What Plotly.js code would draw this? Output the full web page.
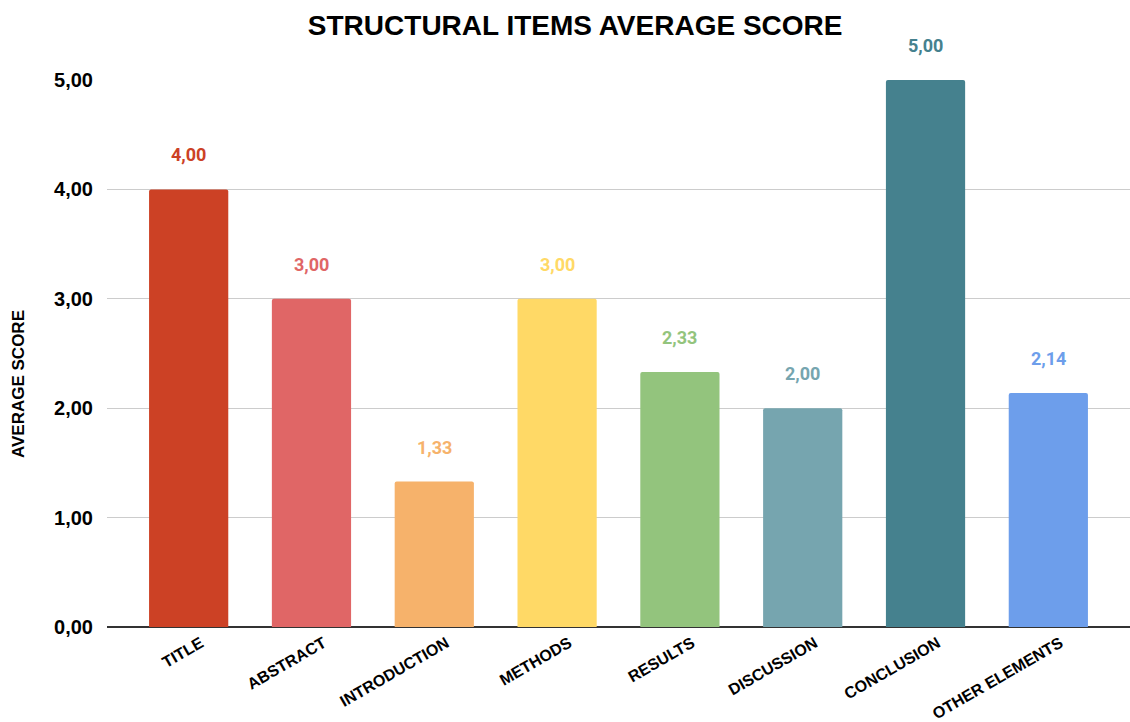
<!DOCTYPE html>
<html><head><meta charset="utf-8">
<script src="https://cdn.plot.ly/plotly-3.0.1.min.js"></script>
<style>html,body{margin:0;padding:0;background:#fff}#chart{width:1130px;height:722px}</style>
</head><body><div id="chart"></div>
<script>
const categories = ["TITLE","ABSTRACT","INTRODUCTION","METHODS","RESULTS","DISCUSSION","CONCLUSION","OTHER ELEMENTS"];
const scores = [4.00, 3.00, 1.33, 3.00, 2.33, 2.00, 5.00, 2.14];
const colors = ["#cc4125","#e06666","#f6b26b","#ffd966","#93c47d","#76a5af","#45818e","#6d9eeb"];
const yTitle = "AVERAGE SCORE";
const chartTitle = "STRUCTURAL ITEMS AVERAGE SCORE";
const labels = scores.map(v => v.toFixed(2).replace('.', ','));
const font = "Arial, 'Liberation Sans', sans-serif";

const W = 1130, H = 722, m = {l: 107, r: 0, t: 80, b: 95};
const pw = W - m.l - m.r, ph = H - m.t - m.b;

const trace = {
  type: 'bar', x: categories, y: scores,
  marker: {color: colors, cornerradius: 2},
  width: 0.645, hoverinfo: 'x+y'
};
const annotations = categories.map((c, i) => ({
  x: c, y: scores[i], xref: 'x', yref: 'y', text: labels[i],
  showarrow: false, yanchor: 'bottom', yshift: 22,
  font: {family: "Roboto, Arial, sans-serif", size: 18, color: colors[i], weight: 'bold'}
}));
annotations.push({
  x: (18 - m.l) / pw, xref: 'paper', y: (H - m.b - 384) / ph, yref: 'paper',
  text: '<b>' + yTitle + '</b>',
  showarrow: false, textangle: -90, xanchor: 'center', yanchor: 'middle',
  font: {family: font, size: 17, color: '#000'}
});

const layout = {
  width: W, height: H,
  margin: m,
  paper_bgcolor: '#fff', plot_bgcolor: '#fff',
  separators: ',.',
  title: {text: '<b>' + chartTitle + '</b>', x: 0.509, xanchor: 'center', y: 0.965, yanchor: 'middle',
          font: {family: font, size: 28, color: '#000'}},
  xaxis: {range: [-0.665, 7.665], tickangle: -30, showgrid: false, ticks: '',
          tickfont: {family: font, size: 16, color: '#000', weight: 'bold'},
          ticklabelshift: 12, ticklabelstandoff: 3,
          showline: false, zeroline: false},
  yaxis: {range: [0, 5], tickvals: [0,1,2,3,4,5], tickformat: '.2f',
          gridcolor: '#cccccc', gridwidth: 1, zeroline: true, zerolinecolor: '#333', zerolinewidth: 1.5,
          tickfont: {family: font, size: 20, color: '#000', weight: 'bold'}, ticklabelstandoff: 13},
  annotations: annotations,
  showlegend: false
};
Plotly.newPlot('chart', [trace], layout, {displayModeBar: false, staticPlot: true});
</script></body></html>
